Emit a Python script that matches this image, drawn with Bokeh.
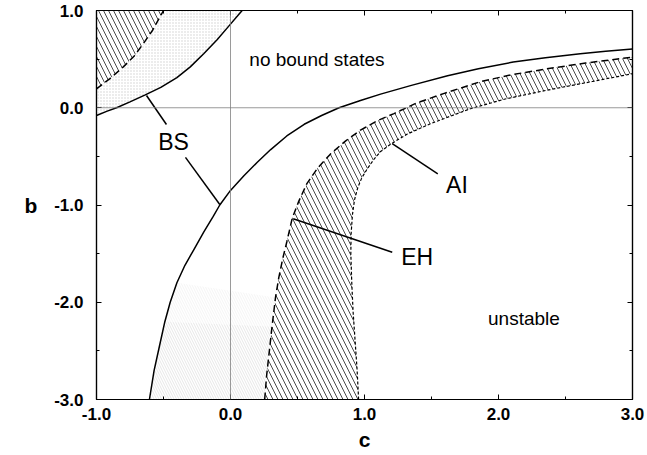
from bokeh.plotting import figure
from bokeh.models import (FixedTicker, PrintfTickFormatter, LinearAxis, Span,
                          Range1d, CustomLabelingPolicy)
from bokeh.core.properties import value
from bokeh.embed import file_html
from bokeh.resources import INLINE

# ---------------- data ----------------
X_MIN, X_MAX = -1.0, 3.0
Y_MIN, Y_MAX = -3.0, 1.0
x_major = [-1.0, 0.0, 1.0, 2.0, 3.0]
x_minor = [-0.5, 0.5, 1.5, 2.5]
y_major = [-3.0, -2.0, -1.0, 0.0, 1.0]
y_minor = [-2.5, -1.5, -0.5, 0.5]

# BS boundary, upper-left branch
bs_upper_c = [-1.0, -0.92, -0.85, -0.75, -0.64, -0.52, -0.40, -0.30, -0.20,
              -0.10, 0.0, 0.05, 0.087]
bs_upper_b = [-0.08, -0.035, 0.0, 0.06, 0.13, 0.21, 0.31, 0.42, 0.555,
              0.70, 0.86, 0.94, 1.0]
# BS boundary, lower-right branch
bs_lower_c = [-0.605, -0.57, -0.53, -0.49, -0.45, -0.40, -0.34, -0.27, -0.20,
              -0.13, -0.08, 0.0, 0.10, 0.20, 0.30, 0.42, 0.55, 0.68, 0.81,
              0.97, 1.12, 1.35, 1.62, 1.85, 2.11, 2.35, 2.61, 2.80, 3.0]
bs_lower_b = [-3.0, -2.7, -2.45, -2.2, -2.0, -1.80, -1.62, -1.45, -1.28,
              -1.12, -1.0, -0.85, -0.70, -0.56, -0.43, -0.29, -0.17, -0.08,
              0.0, 0.075, 0.14, 0.23, 0.33, 0.40, 0.47, 0.515, 0.555, 0.58,
              0.605]
# AI boundary (long dashes), upper-left branch
ai_upper_c = [-1.0, -0.9, -0.8, -0.72, -0.65, -0.58, -0.5]
ai_upper_b = [0.195, 0.30, 0.42, 0.53, 0.66, 0.80, 1.0]
# AI boundary, lower-right branch
ai_lower_c = [0.255, 0.27, 0.29, 0.31, 0.336, 0.36, 0.39, 0.42, 0.46, 0.51,
              0.57, 0.65, 0.75, 0.86, 0.97, 1.10, 1.22, 1.39, 1.60, 1.87,
              2.10, 2.36, 2.65, 3.0]
ai_lower_b = [-3.0, -2.75, -2.5, -2.25, -1.95, -1.75, -1.55, -1.38, -1.14,
              -0.96, -0.78, -0.62, -0.47, -0.34, -0.23, -0.13, -0.06, 0.05,
              0.15, 0.27, 0.34, 0.40, 0.46, 0.52]
# EH boundary (short dashes)
eh_c = [0.956, 0.945, 0.93, 0.915, 0.905, 0.898, 0.90, 0.91, 0.925, 0.95,
        0.98, 1.02, 1.07, 1.12, 1.20, 1.32, 1.50, 1.79, 2.05, 2.36, 2.70, 3.0]
eh_b = [-3.0, -2.7, -2.4, -2.1, -1.8, -1.5, -1.3, -1.1, -0.95, -0.82,
        -0.72, -0.63, -0.53, -0.45, -0.37, -0.27, -0.16, -0.01, 0.09, 0.18,
        0.27, 0.35]

# curve name labels and leader lines
name_text = ["BS", "AI", "EH"]
name_c = [-0.425, 1.69, 1.393]
name_b = [-0.357, -0.79, -1.537]
lead_c0 = [-0.627, -0.336, 1.207, 0.468]
lead_b0 = [0.126, -0.51, -0.37, -1.142]
lead_c1 = [-0.478, -0.08, 1.547, 1.207]
lead_b1 = [-0.172, -0.995, -0.68, -1.485]

# region labels
region_text = ["no bound states", "unstable"]
region_c = [0.645, 2.19]
region_b = [0.50, -2.17]

FONT = "Liberation Sans"

# ---------------- figure ----------------
p = figure(width=647, height=455,
           x_range=Range1d(X_MIN, X_MAX), y_range=Range1d(Y_MIN, Y_MAX),
           output_backend="svg", toolbar_location=None,
           min_border_left=96, min_border_right=15,
           min_border_top=10, min_border_bottom=56)
p.xgrid.visible = False
p.ygrid.visible = False
p.outline_line_color = "black"
p.outline_line_width = 1.2
p.background_fill_color = "white"
p.border_fill_color = "white"

# stippled regions (between BS and AI)
st_up_c = bs_upper_c + ai_upper_c[::-1]
st_up_b = bs_upper_b + ai_upper_b[::-1]
p.patch(st_up_c, st_up_b, fill_color=None, line_color=None,
        hatch_pattern="dot", hatch_color="#cfcfcf", hatch_scale=3,
        hatch_weight=0.5)
# faint stipple near the bottom, fading upwards
st_lo1_c = bs_lower_c[:4] + ai_lower_c[:4][::-1]
st_lo1_b = bs_lower_b[:4] + ai_lower_b[:4][::-1]
p.patch(st_lo1_c, st_lo1_b, fill_color=None, line_color=None,
        hatch_pattern="left_diagonal_line", hatch_color="#d6d6d6",
        hatch_scale=5, hatch_weight=0.6)
st_lo2_c = bs_lower_c[3:6] + ai_lower_c[3:5][::-1]
st_lo2_b = bs_lower_b[3:6] + ai_lower_b[3:5][::-1]
p.patch(st_lo2_c, st_lo2_b, fill_color=None, line_color=None,
        hatch_pattern="left_diagonal_line", hatch_color="#ececec",
        hatch_scale=5, hatch_weight=0.6)

# hatched regions
hu_c = ai_upper_c + [X_MIN]
hu_b = ai_upper_b + [Y_MAX]
p.patch(hu_c, hu_b, fill_color=None, line_color=None,
        hatch_pattern="left_diagonal_line", hatch_color="#1a1a1a",
        hatch_scale=10, hatch_weight=0.8)
band_c = ai_lower_c + eh_c[::-1]
band_b = ai_lower_b + eh_b[::-1]
p.patch(band_c, band_b, fill_color=None, line_color=None,
        hatch_pattern="left_diagonal_line", hatch_color="#1a1a1a",
        hatch_scale=10, hatch_weight=0.8)

# zero lines
p.add_layout(Span(location=0, dimension="height", line_color="#808080", line_width=0.8))
p.add_layout(Span(location=0, dimension="width", line_color="#808080", line_width=0.8))

# curves
p.line(bs_upper_c, bs_upper_b, line_color="black", line_width=1.5)
p.line(bs_lower_c, bs_lower_b, line_color="black", line_width=1.5)
p.line(ai_upper_c, ai_upper_b, line_color="black", line_width=1.5, line_dash="7 4")
p.line(ai_lower_c, ai_lower_b, line_color="black", line_width=1.5, line_dash="7 4")
p.line(eh_c, eh_b, line_color="black", line_width=1.2, line_dash="3 2")

# leaders and labels
p.segment(lead_c0, lead_b0, lead_c1, lead_b1, line_color="black", line_width=1.5)
p.text(name_c, name_b, text=name_text, text_font=value(FONT),
       text_font_size="23px", text_align="center", text_baseline="middle",
       text_color="black")
p.text(region_c, region_b, text=region_text, text_font=value(FONT),
       text_font_size="19px", text_align="center", text_baseline="middle",
       text_color="black")

# axes
def style_axis(ax, ticks, minor):
    ax.ticker = FixedTicker(ticks=ticks, minor_ticks=minor)
    ax.formatter = PrintfTickFormatter(format="%.1f")
    ax.major_tick_in = 5
    ax.major_tick_out = 0
    ax.minor_tick_in = 3
    ax.minor_tick_out = 0
    ax.axis_line_color = "black"
    ax.axis_line_width = 1.2
    ax.major_tick_line_color = "black"
    ax.minor_tick_line_color = "black"
    ax.major_label_text_font = FONT
    ax.major_label_text_font_style = "bold"
    ax.major_label_text_font_size = "17px"
    ax.major_label_text_color = "black"
    ax.axis_label_text_font = FONT
    ax.axis_label_text_font_style = "bold"
    ax.axis_label_text_font_size = "21px"
    ax.axis_label_text_color = "black"

style_axis(p.xaxis[0], x_major, x_minor)
style_axis(p.yaxis[0], y_major, y_minor)
p.xaxis[0].major_label_standoff = 8
p.yaxis[0].major_label_standoff = 13
p.xaxis[0].axis_label = "c"
p.xaxis[0].axis_label_standoff = 5
p.yaxis[0].axis_label = "b"
p.yaxis[0].axis_label_standoff = 14
try:
    p.yaxis[0].axis_label_orientation = "horizontal"
except Exception:
    pass

hide = "return new Set()"
top = LinearAxis()
style_axis(top, x_major, x_minor)
top.major_label_policy = CustomLabelingPolicy(code=hide)
top.major_label_text_font_size = "1px"
top.major_label_standoff = 0
p.add_layout(top, "above")
right = LinearAxis()
style_axis(right, y_major, y_minor)
right.major_label_policy = CustomLabelingPolicy(code=hide)
right.major_label_text_font_size = "1px"
right.major_label_standoff = 0
p.add_layout(right, "right")

open("out.html", "w").write(file_html(p, INLINE))
